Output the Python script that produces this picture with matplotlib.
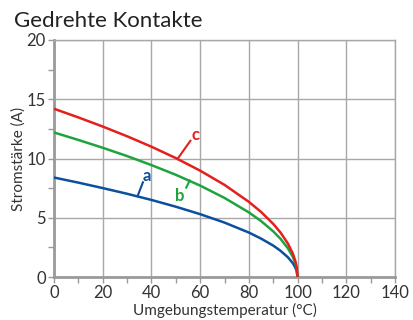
import matplotlib
matplotlib.use("Agg")
import matplotlib.pyplot as plt
from matplotlib.ticker import MultipleLocator

# Werte
temperatur = [0, 10, 20, 30, 40, 50, 60, 70, 80, 85, 90, 93, 96, 98, 99, 99.6, 100]
strom_a = [8.4, 7.97, 7.51, 7.03, 6.51, 5.94, 5.31, 4.6, 3.76, 3.25, 2.66, 2.22, 1.68, 1.19, 0.84, 0.53, 0]
strom_b = [12.2, 11.57, 10.91, 10.21, 9.45, 8.63, 7.72, 6.68, 5.46, 4.73, 3.86, 3.23, 2.44, 1.73, 1.22, 0.77, 0]
strom_c = [14.2, 13.47, 12.7, 11.88, 11.0, 10.04, 8.98, 7.78, 6.35, 5.5, 4.49, 3.76, 2.84, 2.01, 1.42, 0.9, 0]

kurven = [
    ("a", strom_a, "#0b4f9e", (38.0, 8.55), (34.3, 6.83), (36.5, 8.0)),
    ("b", strom_b, "#1fa33f", (51.6, 6.85), (55.7, 8.15), (54.3, 7.55)),
    ("c", strom_c, "#e3201b", (58.0, 12.0), (50.7, 9.97), (56.0, 11.5)),
]

plt.rcParams["font.family"] = ["Lato", "DejaVu Sans"]

fig = plt.figure(figsize=(4.13, 3.2), dpi=100)
ax = fig.add_axes([0.1308, 0.134, 0.8256, 0.741])

for name, werte, farbe, txt, p0, p1 in kurven:
    ax.plot(temperatur, werte, color=farbe, lw=1.8, zorder=3, solid_capstyle="butt")
    ax.plot([p0[0], p1[0]], [p0[1], p1[1]], color=farbe, lw=1.5, zorder=3)
    ax.text(txt[0], txt[1], name, color=farbe, fontsize=12, fontweight="bold",
            ha="center", va="center", zorder=4)

ax.set_xlim(0, 140)
ax.set_ylim(0, 20)
ax.xaxis.set_major_locator(MultipleLocator(20))
ax.xaxis.set_minor_locator(MultipleLocator(10))
ax.yaxis.set_major_locator(MultipleLocator(5))
ax.yaxis.set_minor_locator(MultipleLocator(2.5))
ax.grid(True, which="major", color="#a8a8a8", lw=1.0)
ax.set_axisbelow(True)

for s in ["top", "right"]:
    ax.spines[s].set_color("#a8a8a8")
    ax.spines[s].set_linewidth(1.0)
for s in ["left", "bottom"]:
    ax.spines[s].set_color("#9a9a9a")
    ax.spines[s].set_linewidth(2.0)

ax.tick_params(which="both", color="#9a9a9a", width=1.0, direction="out",
               labelsize=12, labelcolor="#333333", pad=2)
ax.tick_params(which="major", length=4)
ax.tick_params(which="minor", length=4)

ax.set_xlabel("Umgebungstemperatur (°C)", fontsize=11, color="#333333", labelpad=1)
ax.set_ylabel("Stromstärke (A)", fontsize=11, color="#333333")
ax.yaxis.set_label_coords(-0.084, 0.5)

fig.text(0.034, 0.935, "Gedrehte Kontakte", fontsize=16, color="#222222",
         ha="left", va="center")

fig.savefig("out.png", dpi=100)
